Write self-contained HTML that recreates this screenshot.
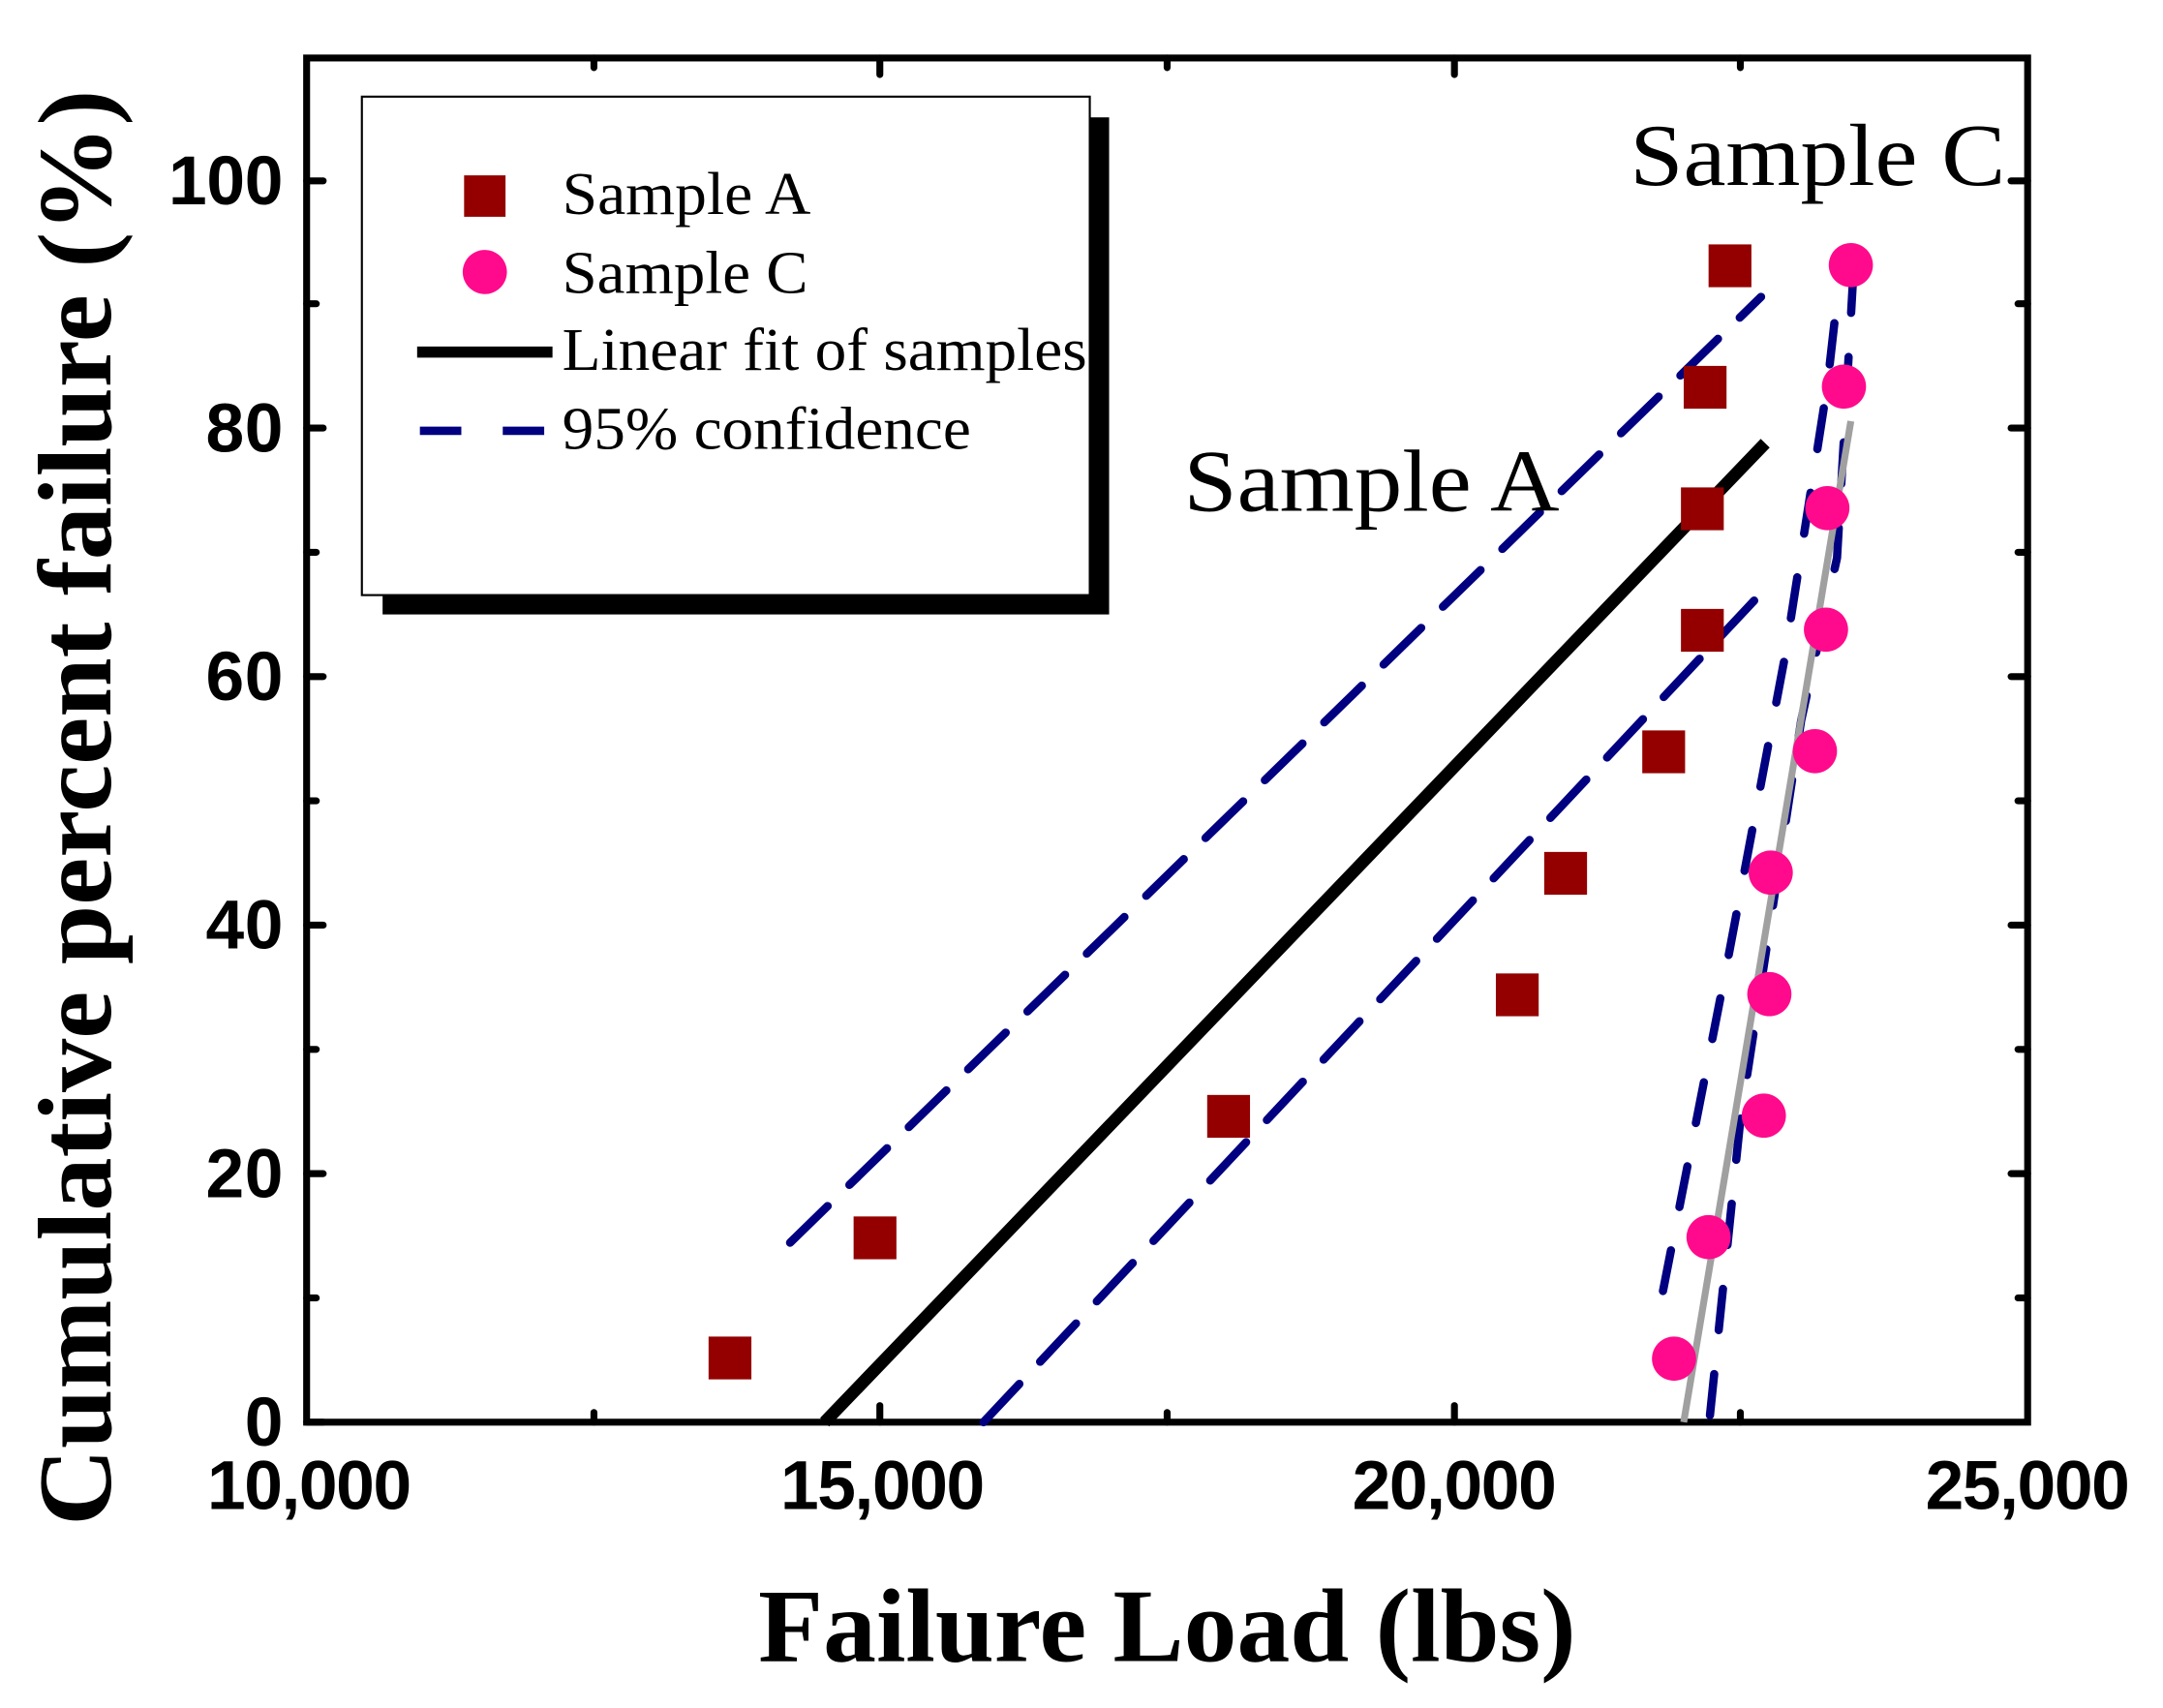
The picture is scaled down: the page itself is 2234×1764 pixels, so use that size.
<!DOCTYPE html>
<html><head><meta charset="utf-8"><style>html,body{margin:0;padding:0;background:#fff}svg{display:block}</style></head>
<body>
<svg width="2234" height="1764" viewBox="0 0 1566 1237" preserveAspectRatio="none" xmlns="http://www.w3.org/2000/svg">
<rect width="1566" height="1237" fill="#fff"/>
<g stroke="#000" stroke-width="5" stroke-linecap="round">
<line x1="222" y1="1030" x2="234" y2="1030"/><line x1="222" y1="940" x2="229" y2="940"/>
<line x1="222" y1="850" x2="234" y2="850"/><line x1="222" y1="760" x2="229" y2="760"/>
<line x1="222" y1="670" x2="234" y2="670"/><line x1="222" y1="580" x2="229" y2="580"/>
<line x1="222" y1="490" x2="234" y2="490"/><line x1="222" y1="400" x2="229" y2="400"/>
<line x1="222" y1="310" x2="234" y2="310"/><line x1="222" y1="220" x2="229" y2="220"/>
<line x1="222" y1="131" x2="234" y2="131"/>
<line x1="1468" y1="940" x2="1461" y2="940"/><line x1="1468" y1="850" x2="1456" y2="850"/>
<line x1="1468" y1="760" x2="1461" y2="760"/><line x1="1468" y1="670" x2="1456" y2="670"/>
<line x1="1468" y1="580" x2="1461" y2="580"/><line x1="1468" y1="490" x2="1456" y2="490"/>
<line x1="1468" y1="400" x2="1461" y2="400"/><line x1="1468" y1="310" x2="1456" y2="310"/>
<line x1="1468" y1="220" x2="1461" y2="220"/><line x1="1468" y1="131" x2="1456" y2="131"/>
<line x1="430" y1="1030" x2="430" y2="1023"/><line x1="637" y1="1030" x2="637" y2="1018"/>
<line x1="845" y1="1030" x2="845" y2="1023"/><line x1="1053" y1="1030" x2="1053" y2="1018"/>
<line x1="1260" y1="1030" x2="1260" y2="1023"/>
<line x1="430" y1="42" x2="430" y2="49"/><line x1="637" y1="42" x2="637" y2="54"/>
<line x1="845" y1="42" x2="845" y2="49"/><line x1="1053" y1="42" x2="1053" y2="54"/>
<line x1="1260" y1="42" x2="1260" y2="49"/>
</g>
<rect x="222" y="42" width="1246" height="988" fill="none" stroke="#000" stroke-width="5"/>
<line x1="597" y1="1030" x2="1278" y2="321" stroke="#000" stroke-width="9"/>
<g stroke="#000080" stroke-width="6" stroke-dasharray="38,22" stroke-linecap="round" fill="none">
<line x1="572" y1="900" x2="1275" y2="215"/>
<line x1="712" y1="1030" x2="1270" y2="435"/>
</g>
<g stroke="#000080" stroke-width="6" stroke-dasharray="30,32" stroke-linecap="round" fill="none">
<polyline points="1204,935 1250,700 1292,477 1323,279 1330,217"/>
<polyline points="1238,1025 1260,811 1304,522 1330,404 1336,300 1342,195"/>
</g>
<line x1="1219" y1="1030" x2="1340" y2="305" stroke="#a0a0a0" stroke-width="5"/>
<g fill="#940000">
<rect x="513" y="968" width="31" height="31"/><rect x="618" y="881" width="31" height="31"/>
<rect x="874" y="793" width="31" height="31"/><rect x="1083" y="705" width="31" height="31"/>
<rect x="1118" y="617" width="31" height="31"/><rect x="1189" y="529" width="31" height="31"/>
<rect x="1217" y="441" width="31" height="31"/><rect x="1217" y="353" width="31" height="31"/>
<rect x="1219" y="265" width="31" height="31"/><rect x="1237" y="177" width="31" height="31"/>
</g>
<g fill="#ff0a8c">
<circle cx="1212" cy="984" r="16"/><circle cx="1237" cy="896" r="16"/>
<circle cx="1277" cy="808" r="16"/><circle cx="1281" cy="720" r="16"/>
<circle cx="1282" cy="632" r="16"/><circle cx="1314" cy="544" r="16"/>
<circle cx="1322" cy="456" r="16"/><circle cx="1323" cy="368" r="16"/>
<circle cx="1335" cy="280" r="16"/><circle cx="1340" cy="192" r="16"/>
</g>
<rect x="277" y="85" width="526" height="360" fill="#000"/>
<rect x="262" y="70" width="527" height="361" fill="#fff" stroke="#000" stroke-width="1.5"/>
<rect x="336" y="127" width="30" height="30" fill="#940000"/>
<circle cx="351" cy="197" r="16" fill="#ff0a8c"/>
<line x1="302" y1="255" x2="400" y2="255" stroke="#000" stroke-width="8"/>
<line x1="302" y1="312" x2="400" y2="312" stroke="#000080" stroke-width="6" stroke-dasharray="30,30" stroke-dashoffset="-2"/>
<g font-family="Liberation Serif, serif" font-size="44" fill="#000">
<text x="407" y="155" textLength="180" lengthAdjust="spacingAndGlyphs">Sample A</text>
<text x="407" y="212" textLength="178" lengthAdjust="spacingAndGlyphs">Sample C</text>
<text x="407" y="268" textLength="380" lengthAdjust="spacingAndGlyphs">Linear fit of samples</text>
<text x="407" y="325" textLength="296" lengthAdjust="spacingAndGlyphs">95% confidence</text>
</g>
<g font-family="Liberation Serif, serif" font-size="64" fill="#000">
<text x="857" y="370" textLength="272" lengthAdjust="spacingAndGlyphs">Sample A</text>
<text x="1180" y="134" textLength="272" lengthAdjust="spacingAndGlyphs">Sample C</text>
</g>
<g font-family="Liberation Sans, sans-serif" font-weight="bold" font-size="50" fill="#000" text-anchor="end" lengthAdjust="spacingAndGlyphs">
<text x="205" y="1047" textLength="28">0</text><text x="205" y="867" textLength="56">20</text><text x="205" y="687" textLength="56">40</text>
<text x="205" y="507" textLength="56">60</text><text x="205" y="327" textLength="56">80</text><text x="205" y="148" textLength="83">100</text>
</g>
<g font-family="Liberation Sans, sans-serif" font-weight="bold" font-size="50" fill="#000" text-anchor="middle" lengthAdjust="spacingAndGlyphs">
<text x="224" y="1093" textLength="148">10,000</text><text x="639" y="1093" textLength="148">15,000</text>
<text x="1053" y="1093" textLength="148">20,000</text><text x="1468" y="1093" textLength="148">25,000</text>
</g>
<text x="845" y="1203" text-anchor="middle" font-family="Liberation Serif, serif" font-weight="bold" font-size="76" textLength="592" lengthAdjust="spacingAndGlyphs">Failure Load (lbs)</text>
<text transform="translate(80,585) rotate(-90)" text-anchor="middle" font-family="Liberation Serif, serif" font-weight="bold" font-size="76" textLength="1040" lengthAdjust="spacingAndGlyphs">Cumulative percent failure (%)</text>
</svg>
</body></html>
